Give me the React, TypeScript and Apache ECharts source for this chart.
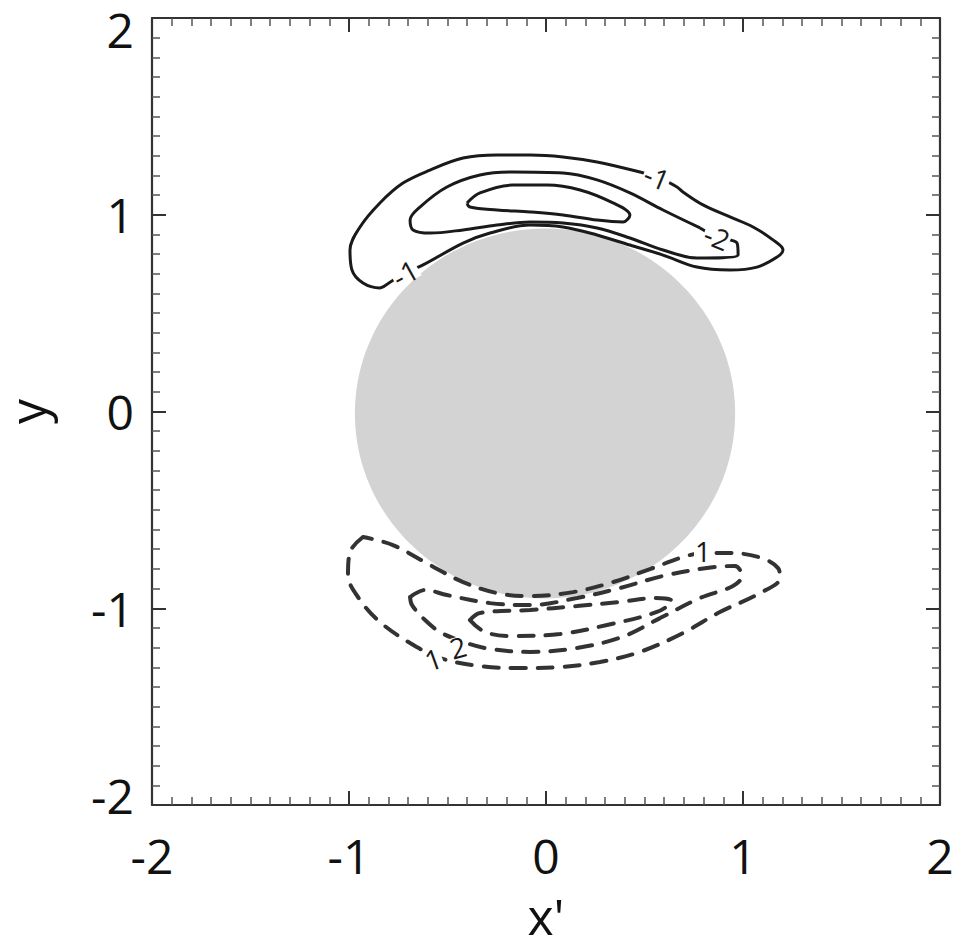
import React, { useEffect, useRef } from "react";
import * as echarts from "echarts";

// Axis ranges / ticks
const axisMin = -2;
const axisMax = 2;
const axisInterval = 1;

// Grey obstacle disc: [centerX, centerY, radiusX, radiusY] in data units
const disc = [[-0.005, -0.01, 0.965, 0.94]];

// Solid contours (upper lobe)
const solidOuter: number[][] = [
  [-0.827, 0.633], [-0.716, 0.704], [-0.624, 0.745], [-0.421, 0.856], [-0.284, 0.907],
  [-0.081, 0.948], [0.086, 0.938], [0.259, 0.897], [0.426, 0.846], [0.594, 0.795],
  [0.766, 0.734], [0.934, 0.719], [1.071, 0.734], [1.173, 0.785], [1.203, 0.821],
  [1.152, 0.872], [1.051, 0.938], [0.934, 0.989], [0.797, 1.05], [0.695, 1.116],
  [0.665, 1.141], [0.563, 1.192], [0.477, 1.217], [0.259, 1.268], [0.086, 1.294],
  [-0.081, 1.304], [-0.249, 1.304], [-0.421, 1.288], [-0.589, 1.227], [-0.726, 1.161],
  [-0.843, 1.06], [-0.944, 0.938], [-0.995, 0.821], [-0.985, 0.719], [-0.929, 0.653],
  [-0.843, 0.628], [-0.827, 0.633],
];
const solidMiddle: number[][] = [
  [0.782, 0.933], [0.868, 0.887], [0.97, 0.856], [0.975, 0.795], [0.766, 0.78],
  [0.594, 0.821], [0.426, 0.882], [0.259, 0.933], [0.086, 0.958], [-0.081, 0.963],
  [-0.249, 0.948], [-0.421, 0.923], [-0.589, 0.907], [-0.675, 0.923], [-0.69, 0.973],
  [-0.64, 1.039], [-0.503, 1.141], [-0.335, 1.202], [-0.168, 1.217], [0.086, 1.212],
  [0.259, 1.177], [0.426, 1.111], [0.594, 1.024], [0.782, 0.933],
];
const solidInner: number[][] = [
  [-0.401, 1.06], [-0.335, 1.111], [-0.168, 1.151], [0.005, 1.151], [0.173, 1.126],
  [0.34, 1.06], [0.426, 0.999], [0.391, 0.963], [0.259, 0.973], [0.086, 0.999],
  [-0.081, 1.014], [-0.249, 1.024], [-0.386, 1.039], [-0.401, 1.06],
];

// Dashed contours (lower lobe)
const dashedOuter: number[][] = [
  [-0.929, -0.638], [-0.995, -0.714], [-1.005, -0.831], [-0.944, -0.958], [-0.843, -1.07],
  [-0.69, -1.177], [-0.538, -1.253], [-0.335, -1.294], [-0.132, -1.304], [0.071, -1.299],
  [0.274, -1.273], [0.477, -1.222], [0.695, -1.126], [0.883, -1.019], [1.076, -0.928],
  [1.188, -0.846], [1.178, -0.796], [1.096, -0.745], [0.934, -0.719], [0.797, -0.719],
  [0.695, -0.74], [0.528, -0.801], [0.34, -0.867], [0.137, -0.918], [-0.081, -0.938],
  [-0.249, -0.923], [-0.421, -0.867], [-0.589, -0.78], [-0.777, -0.679], [-0.929, -0.638],
];
const dashedMiddle: number[][] = [
  [-0.69, -0.943], [-0.614, -0.907], [-0.503, -0.933], [-0.284, -0.974], [-0.081, -0.984],
  [0.157, -0.948], [0.376, -0.897], [0.594, -0.836], [0.817, -0.795], [0.959, -0.785],
  [0.995, -0.836], [0.949, -0.887], [0.782, -0.948], [0.579, -1.05], [0.386, -1.146],
  [0.157, -1.202], [-0.081, -1.222], [-0.31, -1.202], [-0.447, -1.161], [-0.538, -1.121],
  [-0.614, -1.06], [-0.68, -0.984], [-0.69, -0.943],
];
const dashedInner: number[][] = [
  [-0.386, -1.06], [-0.335, -1.024], [-0.081, -1.009], [0.157, -0.989], [0.376, -0.968],
  [0.553, -0.948], [0.64, -0.963], [0.563, -1.019], [0.31, -1.085], [0.071, -1.131],
  [-0.168, -1.141], [-0.31, -1.121], [-0.386, -1.06],
];

// Contour level labels
const labelPositions: number[][] = [
  [-0.716, 0.704], [0.563, 1.192], [0.868, 0.887],
  [0.797, -0.709], [-0.574, -1.258], [-0.447, -1.197],
];
const labelTexts = ["-1", "-1", "-2", "1", "1", "2"];
const labelAngles = [29, -22, -22, 0, 20, 15];

const FONT = "'Open Sans', 'DejaVu Sans', sans-serif";
const INK = "#1a1a1a";

export default function App() {
  const ref = useRef<HTMLDivElement>(null);
  useEffect(() => {
    const chart = echarts.init(ref.current!, null, { renderer: "svg" });
    const frame = {
      type: "value" as const,
      min: axisMin,
      max: axisMax,
      interval: axisInterval,
      splitLine: { show: false },
      axisLine: { show: true, onZero: false, lineStyle: { color: "#333", width: 2.2 } },
      axisTick: { show: true, inside: true, length: 14, lineStyle: { color: "#333", width: 2 } },
      minorTick: { show: true, splitNumber: 10, length: 8, lineStyle: { color: "#555", width: 1.5 } },
    };
    const tickLabel = { fontSize: 48, color: "#111", fontFamily: FONT };
    const solid = (d: number[][]) => ({
      type: "line", data: d, showSymbol: false, smooth: 0.35, z: 3, silent: true,
      lineStyle: { color: INK, width: 3, type: "solid" },
    });
    const dashed = (d: number[][]) => ({
      type: "line", data: d, showSymbol: false, smooth: 0.35, z: 3, silent: true,
      lineStyle: { color: "#333", width: 4, type: [15, 12], cap: "round" },
    });
    chart.setOption({
      animation: false,
      backgroundColor: "#fff",
      grid: { left: 152, top: 18, width: 788, height: 787, containLabel: false, outerBoundsMode: "none" },
      xAxis: [
        {
          ...frame, position: "bottom",
          axisLabel: { ...tickLabel, margin: 26 },
          name: "x'", nameLocation: "middle", nameGap: 86,
          nameTextStyle: { fontSize: 50, color: "#111", fontFamily: FONT },
        },
        { ...frame, position: "top", axisLabel: { show: false } },
      ],
      yAxis: [
        {
          ...frame, position: "left",
          axisLabel: {
            ...tickLabel, margin: 18,
            formatter: (v: number) => (v === axisMax ? `{t|${v}}` : v === axisMin ? `{b|${v}}` : `${v}`),
            rich: {
              t: { fontSize: 48, color: "#111", fontFamily: FONT, padding: [23, 0, 0, 0] },
              b: { fontSize: 48, color: "#111", fontFamily: FONT, padding: [0, 0, 20, 0] },
            },
          },
          name: "y", nameLocation: "middle", nameGap: 100,
          nameTextStyle: { fontSize: 50, color: "#111", fontFamily: FONT },
        },
        { ...frame, position: "right", axisLabel: { show: false } },
      ],
      series: [
        {
          type: "custom", data: disc, silent: true, z: 1,
          renderItem: (_p: any, api: any) => {
            const c = api.coord([api.value(0), api.value(1)]);
            const s = api.size([api.value(2), api.value(3)]);
            return {
              type: "ellipse",
              shape: { cx: c[0], cy: c[1], rx: s[0], ry: s[1] },
              style: { fill: "#d3d3d3" },
            };
          },
        },
        solid(solidOuter),
        solid(solidMiddle),
        solid(solidInner),
        dashed(dashedOuter),
        dashed(dashedMiddle),
        dashed(dashedInner),
      ],
    });
    const texts = labelPositions.map((p, i) => {
      const px = chart.convertToPixel({ gridIndex: 0 }, p) as number[];
      return {
        type: "text",
        x: px[0],
        y: px[1],
        rotation: (labelAngles[i] * Math.PI) / 180,
        z: 10,
        silent: true,
        style: {
          text: labelTexts[i],
          fontSize: 28,
          lineHeight: 20,
          fontFamily: "Open Sans",
          fill: INK,
          align: "center",
          verticalAlign: "middle",
          backgroundColor: "#fff",
          padding: [0, 1],
        },
      };
    });
    chart.setOption({ graphic: texts });
    return () => chart.dispose();
  }, []);
  return (
    <div
      ref={ref}
      style={{ position: "fixed", left: 0, top: 0, width: 966, height: 948, background: "#fff" }}
    />
  );
}
